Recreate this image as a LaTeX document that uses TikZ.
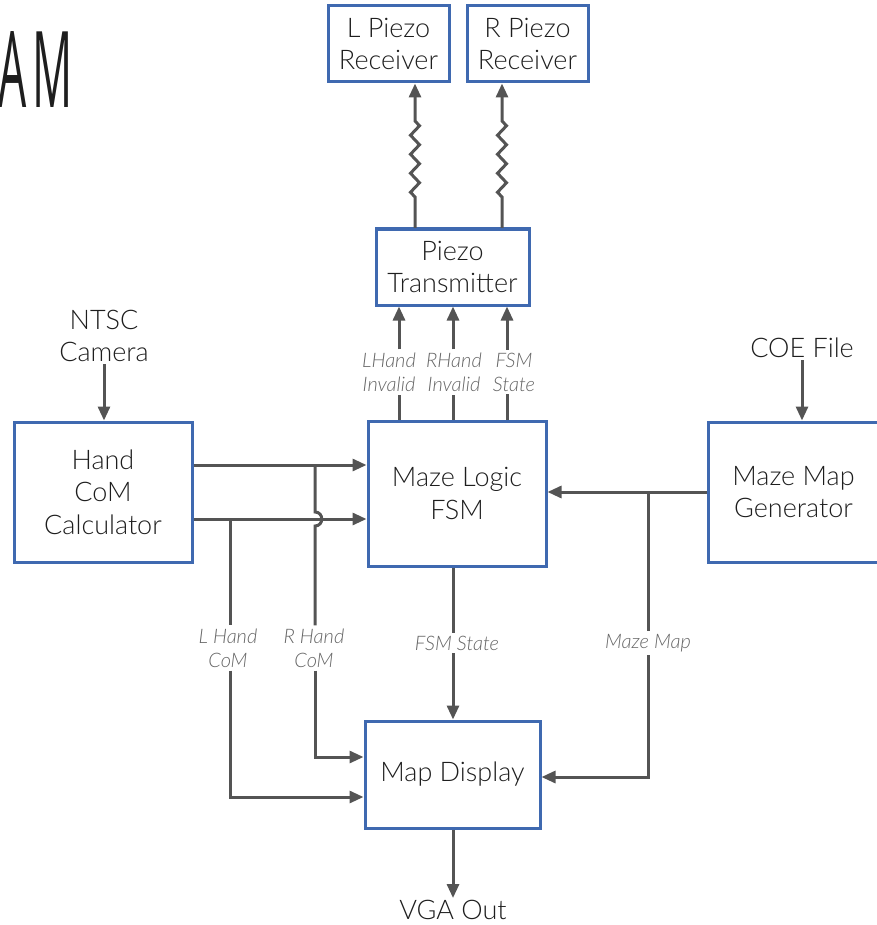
\documentclass[tikz,border=0pt]{standalone}
\usepackage{fontspec}
\setmainfont{Lato}[UprightFont={* Light},ItalicFont={* Light Italic}]
\newfontfamily\titlefont{Open Sans}
\usetikzlibrary{arrows.meta,decorations.pathmorphing,calc}
\definecolor{boxblue}{HTML}{3F69B0}
\definecolor{linegray}{HTML}{545454}
\definecolor{labgray}{HTML}{666666}
\definecolor{txt}{HTML}{1E1E1E}
\begin{document}
\begin{tikzpicture}[x=1pt,y=-1pt,
 box/.style={draw=boxblue,line width=3pt,align=center,inner sep=0pt,text=txt,font=\fontsize{27}{32.5}\selectfont},
 plain/.style={align=center,text=txt,font=\fontsize{27}{32.5}\selectfont,inner sep=2pt},
 lab/.style={align=center,text=labgray,font=\itshape\fontsize{20}{24}\selectfont,inner sep=3pt},
 conn/.style={draw=linegray,line width=3pt},
 arr/.style={conn,-{Triangle[length=14pt,width=12pt]}},
 ttl/.style={inner sep=0pt,text=txt,font=\titlefont\fontsize{106}{106}\selectfont},
 zz/.style={decoration={zigzag,segment length=19pt,amplitude=4.5pt}}]
\useasboundingbox (0,0) rectangle (876,925);

% title fragment
\node[ttl,anchor=base east] (titleA) at (27,108) {\scalebox{0.42}[1]{A}};
\node[ttl,anchor=base west] (titleM) at (titleA.base east) {\hspace{5pt}\scalebox{0.42}[1]{M}};

% boxes
\node[box,minimum width=121pt,minimum height=76pt] (lrx) at (388.5,44) {L Piezo\\Receiver};
\node[box,minimum width=121pt,minimum height=76pt] (rrx) at (527.5,44) {R Piezo\\Receiver};
\node[box,minimum width=153pt,minimum height=76pt] (tx) at (452.5,267) {Piezo\\Transmitter};
\node[box,minimum width=178pt,minimum height=145pt] (fsm) at (457,493.5) {Maze Logic\\FSM};
\node[box,minimum width=178pt,minimum height=140pt] (hand) at (103,492) {Hand\\CoM\\Calculator};
\node[box,minimum width=171pt,minimum height=140pt] (gen) at (793.5,492) {Maze Map\\Generator};
\node[box,minimum width=175pt,minimum height=107pt] (disp) at (452.5,774.5) {Map Display};

% plain texts
\node[plain] (ntsc) at (104,336) {NTSC\\Camera};
\node[plain] (coe) at (802,348) {COE File};
\node[plain] (vga) at (453,910) {VGA Out};

% labels
\node[lab] (l1) at (389,372) {LHand\\Invalid};
\node[lab] (l2) at (454,372) {RHand\\Invalid};
\node[lab] (l3) at (514,372) {FSM\\State};
\node[lab] (lh) at (228,648) {L Hand\\CoM};
\node[lab] (rh) at (314,648) {R Hand\\CoM};
\node[lab] (fs) at (457,643) {FSM State};
\node[lab] (mm) at (648,643) {Maze Map};

% piezo links
\coordinate (pl) at (415,228);
\coordinate (pr) at (502,228);
\draw[arr] (pl) -- ++(0,-31) decorate[zz]{ -- ++(0,-77)} -- (lrx.south -| pl);
\draw[arr] (pr) -- ++(0,-31) decorate[zz]{ -- ++(0,-77)} -- (rrx.south -| pr);

% fsm -> transmitter
\foreach \x/\l in {399/l1,453/l2,507/l3}{
  \draw[conn] (fsm.north -| \x,0) -- (\l.south -| \x,0);
  \draw[arr] (\l.north -| \x,0) -- (tx.south -| \x,0);
}

% inputs
\draw[arr] (ntsc.south) -- (hand.north -| ntsc.south);
\draw[arr] (coe.south) -- (gen.north -| coe.south);

% hand -> fsm
\coordinate (ha) at (hand.east |- 0,465);
\coordinate (hb) at (hand.east |- 0,519);
\draw[arr] (ha) -- (fsm.west |- ha);
\draw[arr] (hb) -- (fsm.west |- hb);

% R hand com with hop
\coordinate (rj) at (315,465);
\draw[conn] (rj) -- (315,512) .. controls (324,512) and (324,526) .. (315,526) -- (rh.north -| rj);
\coordinate (rt) at (315,757);
\draw[arr] (rh.south -| rj) -- (rt) -- (disp.west |- rt);

% L hand com
\coordinate (lj) at (230,519);
\draw[conn] (lj) -- (lh.north -| lj);
\coordinate (lt) at (230,797);
\draw[arr] (lh.south -| lj) -- (lt) -- (disp.west |- lt);

% FSM state to display
\coordinate (fj) at (453,567);
\draw[conn] (fsm.south -| fj) -- (fs.north -| fj);
\draw[arr] (fs.south -| fj) -- (disp.north -| fj);

% maze map
\draw[arr] (gen.west) -- (fsm.east |- gen.west);
\coordinate (mj) at (648,493);
\draw[conn] (mj) -- (mm.north -| mj);
\coordinate (mt) at (648,777);
\draw[arr] (mm.south -| mj) -- (mt) -- (disp.east |- mt);

% output
\draw[arr] (disp.south -| fj) -- (vga.north -| fj);
\end{tikzpicture}
\end{document}
